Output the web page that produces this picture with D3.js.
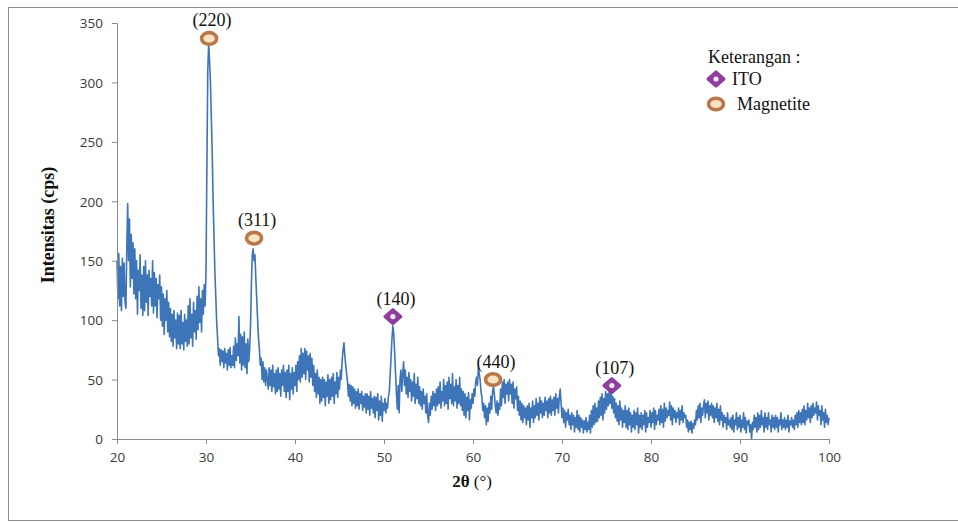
<!DOCTYPE html>
<html><head><meta charset="utf-8">
<script src="https://cdn.jsdelivr.net/npm/d3@7"></script>
<style>body{margin:0;background:#fff}svg{display:block}</style>
</head><body>
<svg id="chart" width="958" height="523"></svg>
<script>
// ---- data (2θ from 20° to 100°, step 0.1°) ----
const startAngle = 20, stepAngle = 0.1;
const intensity = [
150,118,156,112,145,108,152,120,148,115,
110,160,198,150,185,128,172,135,165,122,
160,118,150,105,142,125,155,110,138,104,
145,108,150,115,138,104,142,120,135,112,
150,106,140,112,135,102,130,118,138,100,
128,95,122,88,118,100,125,90,115,86,
110,82,105,78,108,85,100,76,106,80,
104,76,108,80,98,75,105,82,100,78,
112,80,118,85,105,78,115,90,108,84,
120,92,128,98,118,90,125,105,130,112,
140,230,310,333,318,300,270,240,200,170,
140,120,98,85,70,76,62,75,65,74,
60,76,64,72,58,75,62,77,60,70,
62,78,60,85,66,80,70,103,64,88,
58,86,62,90,60,80,55,84,65,75,
95,130,155,160,150,155,135,118,100,85,
75,62,68,50,65,48,60,45,58,50,
42,60,45,58,40,62,44,55,38,58,
40,60,42,55,36,58,45,62,40,56,
35,58,40,62,33,55,42,60,38,56,
45,62,40,65,50,70,48,76,52,72,
55,76,50,74,58,70,48,72,52,68,
45,62,40,55,35,58,38,52,30,50,
32,52,35,50,28,48,36,54,30,50,
33,52,36,55,30,48,38,56,35,52,
42,58,50,66,75,81,70,62,55,48,
36,46,32,45,28,44,30,42,26,40,
28,42,25,38,30,40,24,36,27,38,
22,38,25,36,20,40,26,34,22,36,
18,35,24,38,16,32,20,36,15,30,
24,34,22,30,26,36,40,55,70,85,
95,88,72,55,38,25,45,22,50,58,
40,55,65,45,58,38,52,35,56,40,
50,32,48,36,55,30,46,34,52,30,
44,28,40,25,42,30,36,22,38,20,
14,30,20,36,25,40,28,38,24,42,
28,44,30,48,26,40,32,50,28,45,
30,48,25,52,34,46,30,55,28,44,
32,50,26,45,30,52,28,42,24,40,
20,38,18,35,24,39,16,33,26,38,
30,42,36,48,52,45,60,55,50,40,
35,24,30,18,28,12,26,15,30,22,
36,25,40,44,38,28,22,32,20,30,
25,42,28,48,35,50,30,46,38,48,
32,50,38,46,30,48,26,42,34,44,
24,36,20,32,16,30,14,28,18,26,
12,28,16,30,10,26,18,32,14,28,
18,34,20,30,16,35,22,32,18,30,
20,35,24,32,18,34,22,36,20,33,
24,35,20,38,26,34,22,36,42,30,
18,26,14,24,10,22,16,25,12,20,
8,22,12,20,6,18,10,24,8,20,
6,18,10,16,5,15,8,18,6,14,
8,20,5,24,10,28,12,30,14,26,
15,32,18,35,20,38,16,34,22,40,
25,38,28,40,30,41,26,36,22,34,
18,30,15,28,12,32,16,26,10,24,
14,28,10,24,8,26,12,22,6,20,
10,24,8,22,12,26,5,20,10,22,
8,20,12,24,6,22,10,18,14,24,
10,22,14,26,8,24,12,20,16,25,
12,28,14,25,10,30,15,26,18,24,
20,31,16,28,12,26,18,24,14,22,
18,26,12,24,16,28,14,22,18,20,
10,16,6,14,8,15,5,13,9,16,
12,24,16,28,18,30,14,26,20,28,
33,18,30,22,32,16,28,20,30,18,
28,14,26,18,30,15,25,12,28,16,
22,10,20,14,18,8,22,12,16,10,
18,8,20,6,16,12,22,8,18,10,
20,6,16,10,22,8,18,5,15,12,
16,6,12,0,14,8,20,10,18,6,
22,8,20,10,24,12,18,6,22,10,
18,8,22,12,16,6,20,10,18,8,
20,10,18,6,16,12,22,8,16,10,
18,8,16,10,20,6,15,12,18,10,
16,8,20,12,22,10,24,14,22,12,
25,14,28,12,24,16,30,18,26,14,
28,18,30,20,26,22,31,16,28,20,
24,12,28,16,22,10,25,14,20,12,
18
];
const xTicks = [20,30,40,50,60,70,80,90,100];
const yTicks = [0,50,100,150,200,250,300,350];
const peakLabels = ["(220)","(311)","(140)","(440)","(107)"];
const peakAngles = [30.35,35.4,51.0,62.25,75.6];
const peakMarkY = [337,169,103,50,45];
const peakPhase = ["Magnetite","Magnetite","ITO","Magnetite","ITO"];
const legendTitle = "Keterangan :";
const legendItems = ["ITO","Magnetite"];

// ---- drawing ----
const svg = d3.select("#chart");
const x = d3.scaleLinear().domain([20,100]).range([117,829]);
const y = d3.scaleLinear().domain([0,350]).range([439,23]);
const axisColor = "#8a8a8a";
const tickFont = "'Open Sans', 'DejaVu Sans', sans-serif";
const serif = "'Liberation Serif','Times New Roman',serif";

// outer frame
svg.append("rect").attr("x",8.5).attr("y",7.5).attr("width",980).attr("height",513)
  .attr("fill","none").attr("stroke","#8c8c8c").attr("stroke-width",1);

const data = intensity.map((v,i)=>({a: startAngle + i*stepAngle, v}));

// line
svg.append("path").datum(data)
  .attr("fill","none").attr("stroke","#3e74b8").attr("stroke-width",1.6)
  .attr("stroke-linejoin","round")
  .attr("d", d3.line().x(d=>x(d.a)).y(d=>y(d.v)));

// axes
const yAxis = svg.append("g").attr("transform","translate(117,0)")
  .call(d3.axisLeft(y).tickValues(yTicks).tickSize(5).tickPadding(9));
const xAxis = svg.append("g").attr("transform","translate(0,439)")
  .call(d3.axisBottom(x).tickValues(xTicks).tickSize(5).tickPadding(8));
[yAxis,xAxis].forEach(g=>{
  g.select(".domain").attr("stroke",axisColor);
  g.selectAll(".tick line").attr("stroke",axisColor);
  g.selectAll(".tick text").attr("fill","#3a3a3a").attr("font-size",13.5).attr("font-family",tickFont);
});
yAxis.selectAll(".tick text").attr("dy","0.35em");

// titles
svg.append("text").attr("transform","translate(54,225) rotate(-90)")
  .attr("text-anchor","middle").attr("font-family",serif).attr("font-weight","bold")
  .attr("font-size",18).attr("fill","#111").text("Intensitas (cps)");
const xt = svg.append("text").attr("x",472).attr("y",487).attr("text-anchor","middle")
  .attr("font-family",serif).attr("font-size",17).attr("fill","#111");
xt.append("tspan").attr("font-weight","bold").text("2θ ");
xt.append("tspan").text("(°)");

// markers
function drawMarker(g, phase, cx, cy){
  if(phase==="ITO"){
    g.append("path")
      .attr("d",`M${cx},${cy-7} L${cx+8},${cy} L${cx},${cy+7} L${cx-8},${cy} Z`)
      .attr("fill","#8d3f9e").attr("stroke","#8d3f9e").attr("stroke-width",3)
      .attr("stroke-linejoin","round");
    g.append("circle").attr("cx",cx).attr("cy",cy).attr("r",2.6).attr("fill","#f3e6f5");
  } else {
    g.append("ellipse").attr("cx",cx).attr("cy",cy).attr("rx",7.5).attr("ry",5.8)
      .attr("fill","#fbe3c4").attr("stroke","#b9784a").attr("stroke-width",3.6);
  }
}
const marks = svg.append("g");
peakLabels.forEach((lab,i)=>{
  const cx = x(peakAngles[i]), cy = y(peakMarkY[i]);
  drawMarker(marks, peakPhase[i], cx, cy);
  marks.append("text").attr("x",cx+3).attr("y",cy-12).attr("text-anchor","middle")
    .attr("font-family",serif).attr("font-size",18).attr("fill","#111").text(lab);
});

// legend
const lg = svg.append("g");
lg.append("text").attr("x",708).attr("y",63).attr("font-family",serif)
  .attr("font-size",18).attr("fill","#111").text(legendTitle);
legendItems.forEach((name,i)=>{
  const cy = 79 + i*25;
  drawMarker(lg, name, 716, cy);
  lg.append("text").attr("x", i===0 ? 732 : 737).attr("y",cy+6).attr("font-family",serif)
    .attr("font-size",18).attr("fill","#111").text(name);
});
</script>
</body></html>
